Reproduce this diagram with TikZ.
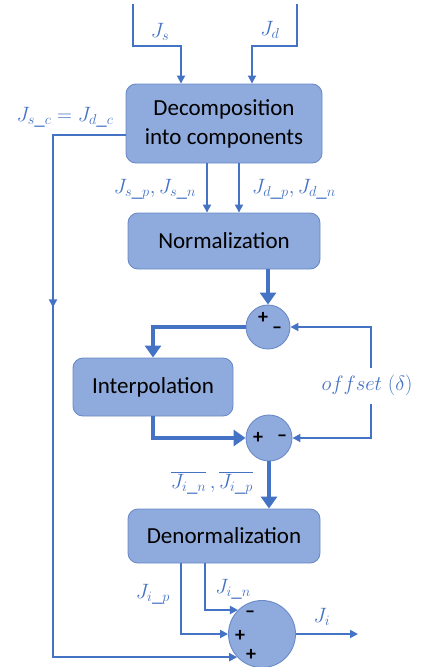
\documentclass[tikz,border=0pt]{standalone}
\usepackage{fontspec}
\setmainfont{Carlito}
\usetikzlibrary{arrows.meta,calc,decorations.markings}
\definecolor{lnblue}{HTML}{4472C4}
\definecolor{boxfill}{HTML}{8FAADC}
\definecolor{boxdraw}{HTML}{6A8AC8}
\tikzset{
  blk/.style={draw=boxdraw, fill=boxfill, rounded corners=10pt, line width=0.9pt,
    align=center, inner sep=0pt, font=\fontsize{23}{29}\selectfont, text=black},
  sumc/.style={circle, draw=boxdraw, fill=boxfill, line width=0.9pt, inner sep=0pt},
  thin/.style={draw=lnblue, line width=1.8pt, -{Triangle[length=8pt,width=8pt]}},
  thick/.style={draw=lnblue, line width=4pt, -{Triangle[length=12pt,width=16pt]}},
  lbl/.style={text=lnblue, font=\fontsize{21}{24}\selectfont, inner sep=0pt},
  sgn/.style={font=\fontsize{20}{20}\selectfont\bfseries, inner sep=0pt, text=black}
}
\begin{document}
\begin{tikzpicture}[x=1pt,y=-1pt]
\useasboundingbox (0,0) rectangle (422,667);
% blocks
\node[blk, minimum width=196pt, minimum height=79pt] (dec) at (224,123.5) {Decomposition\\into components};
\node[blk, minimum width=192pt, minimum height=56pt] (norm) at (224,241) {Normalization};
\node[blk, minimum width=160pt, minimum height=58pt] (interp) at (153,387) {Interpolation};
\node[blk, minimum width=192pt, minimum height=54pt] (denorm) at (224,536) {Denormalization};
\node[sumc, minimum size=44pt] (c1) at (268,327) {};
\node[sumc, minimum size=46pt] (c2) at (269,438) {};
\node[sumc, minimum size=67pt] (c3) at (262,634) {};
% signs
\node[sgn] (s1a) at (263,318) {+};
\node[sgn] (s1b) at (277,330) {–};
\node[sgn] (s2a) at (258,438) {+};
\node[sgn] (s2b) at (282,438) {–};
\node[sgn] (s3a) at (250,614) {–};
\node[sgn] (s3b) at (240,636) {+};
\node[sgn] (s3c) at (251,655) {+};
% inputs
\coordinate (js0) at (133,4);
\coordinate (jd0) at (297,4);
\draw[thin] (js0) |- (181,46) -- (181,46 |- dec.north);
\draw[thin] (jd0) |- (252,46) -- (252,46 |- dec.north);
\node[lbl] (ljs) at (160,32) {$J_s$};
\node[lbl] (ljd) at (270,30) {$J_d$};
% decomposition outputs
\draw[thin] ($(dec.south)+(-17,0)$) -- ($(norm.north)+(-17,0)$);
\draw[thin] ($(dec.south)+(15,0)$) -- ($(norm.north)+(15,0)$);
\node[lbl] (lsp) at (155,189) {$J_{s\_p},J_{s\_n}$};
\node[lbl] (ldp) at (294,189) {$J_{d\_p},J_{d\_n}$};
\node[lbl] (lsc) at (65,117) {$J_{s\_c}=J_{d\_c}$};
% feedback line
\coordinate (fb1) at (53,135);
\draw[thin, postaction={decorate}, decoration={markings, mark=at position 245pt with {\arrow{Triangle[length=8pt,width=8pt]}}}]
  ($(dec.west)+(0,11.5)$) -- (fb1) |- (c3.223);
% normalization to sum1
\draw[thick] (c1.north |- norm.south) -- (c1.north);
\draw[thick] (c1.west) -| (interp.north);
% offset
\node[lbl] (loff) at (367,385) {$offset\;(\delta)$};
\draw[thin] (loff.north -| 371,0) ++(0,-6) coordinate (o1) |- (c1.east);
\draw[thin] ($(loff.south -| 371,0)+(0,8)$) |- (c2.east);
% interpolation to sum2
\draw[thick] (interp.south) |- (c2.west);
% sum2 to denorm
\draw[thick] (c2.south) -- (c2.south |- denorm.north);
\node[lbl] (lov) at (212,483) {$\overline{J_{i\_n}}\,,\overline{J_{i\_p}}$};
% denorm outputs
\draw[thin] ($(denorm.south)+(-19,0)$) |- (c3.135);
\draw[thin] ($(denorm.south)+(-43,0)$) |- (c3.west);
\node[lbl] (lip) at (153,594) {$J_{i\_p}$};
\node[lbl] (lin) at (233,589) {$J_{i\_n}$};
% output
\coordinate (out) at (358,634);
\draw[thin] (c3.east) -- (out);
\node[lbl] (lji) at (322,617) {$J_i$};
\end{tikzpicture}
\end{document}
